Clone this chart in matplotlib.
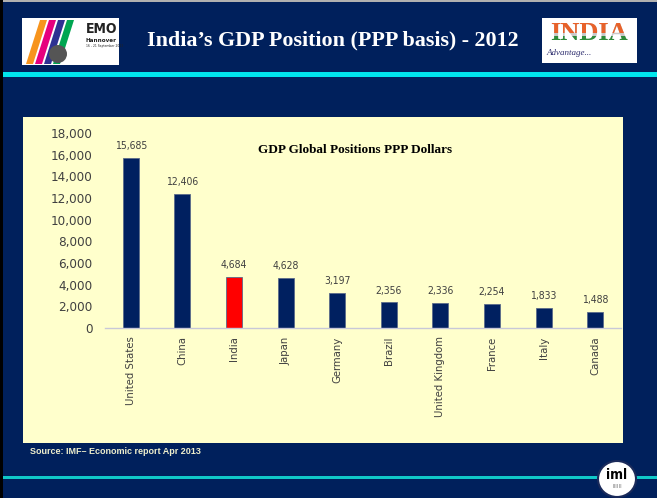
import matplotlib
matplotlib.use("Agg")
import matplotlib.pyplot as plt
from matplotlib.patches import Rectangle, Ellipse, Polygon

countries = ["United States", "China", "India", "Japan", "Germany", "Brazil",
             "United Kingdom", "France", "Italy", "Canada"]
gdp_ppp = [15685, 12406, 4684, 4628, 3197, 2356, 2336, 2254, 1833, 1488]
highlight = "India"
yticks = [0, 2000, 4000, 6000, 8000, 10000, 12000, 14000, 16000, 18000]

W, H = 657, 498
NAVY = "#00205C"
PANEL = "#FFFFCC"
BAR = "#002060"
CYAN = "#00E5EE"
NARROW = ["DejaVu Sans"]
SERIF = ["Liberation Serif", "DejaVu Serif"]

fig = plt.figure(figsize=(W / 100, H / 100), dpi=100)
fig.patch.set_facecolor(NAVY)


def fx(x):
    return x / W


def fy(y):
    return 1 - y / H


def rect(x0, y0, x1, y1, **kw):
    p = Rectangle((fx(x0), fy(y1)), fx(x1) - fx(x0), fy(y0) - fy(y1),
                  transform=fig.transFigure, figure=fig, zorder=kw.pop("zorder", -5), **kw)
    fig.patches.append(p)
    return p


# borders
rect(0, 0, 657, 2, facecolor="#B0B0B0", edgecolor="none")
rect(0, 0, 3, 498, facecolor="#000000", edgecolor="none")
# cyan lines
rect(3, 72, 657, 77, facecolor=CYAN, edgecolor="none")
rect(3, 476, 657, 479, facecolor="#10C8C8", edgecolor="none")
# yellow panel
rect(23, 117, 623, 443, facecolor=PANEL, edgecolor="none")

# EMO logo
rect(22, 18, 119, 65, facecolor="white", edgecolor="none")
stripe_cols = ["#F7941D", "#E6007E", "#2E3192", "#00A651"]
for i, c in enumerate(stripe_cols):
    x0 = 26 + i * 9
    fig.patches.append(Polygon([(fx(x0), fy(64)), (fx(x0 + 7), fy(64)),
                                (fx(x0 + 21), fy(20)), (fx(x0 + 14), fy(20))],
                               closed=True, transform=fig.transFigure, figure=fig,
                               facecolor=c, edgecolor="none", zorder=-4))
fig.patches.append(Ellipse((fx(58), fy(54)), 18 / W, 18 / H, transform=fig.transFigure,
                           figure=fig, facecolor="#555555", edgecolor="none", zorder=-3))
fig.text(fx(86), fy(29), "EMO", fontsize=10, fontweight="bold", color="#222222",
         family=NARROW, fontstretch="condensed", ha="left", va="center")
fig.text(fx(86), fy(40), "Hannover", fontsize=4.5, fontweight="bold", color="#222222",
         family=NARROW, fontstretch="condensed", ha="left", va="center")
fig.text(fx(86), fy(46), "16 - 21 September 2013", fontsize=2.2, color="#222222",
         ha="left", va="center")

# INDIA logo
rect(542, 18, 637, 63, facecolor="white", edgecolor="none")
clip_top = Rectangle((fx(542), fy(33)), fx(95), 15 / H, transform=fig.transFigure)
clip_bot = Rectangle((fx(542), fy(45)), fx(95), 9 / H, transform=fig.transFigure)
t1 = fig.text(fx(589), fy(33), "INDIA", fontsize=19, fontweight="bold", color="#E8622A",
              family=SERIF, ha="center", va="center")
t1.set_clip_path(clip_top)
t2 = fig.text(fx(589), fy(33), "INDIA", fontsize=19, fontweight="bold", color="#2E8B3A",
              family=SERIF, ha="center", va="center")
t2.set_clip_path(clip_bot)
t3 = fig.text(fx(589), fy(33), "INDIA", fontsize=19, fontweight="bold", color="#C8C8C8",
              family=SERIF, ha="center", va="center", zorder=-1)
fig.text(fx(547), fy(53), "Advantage...", fontsize=6.5, style="italic", color="#303070",
         family=SERIF, ha="left", va="center")

# header title
fig.text(fx(333), fy(40), "India\u2019s GDP Position (PPP basis) - 2012", fontsize=15.8,
         fontweight="bold", color="white", family=SERIF, ha="center", va="center")

# source
fig.text(fx(30), fy(451), "Source: IMF\u2013 Economic report Apr 2013", fontsize=6.5,
         fontweight="bold", color="#EEEECC", family=["Liberation Sans", "DejaVu Sans"],
         ha="left", va="center")

# bottom logo
fig.patches.append(Ellipse((fx(617), fy(479)), 38 / W, 36 / H, transform=fig.transFigure,
                           figure=fig, facecolor="white", edgecolor="#1A2A5A",
                           linewidth=1.5, zorder=-2))
fig.text(fx(617), fy(475), "iml", fontsize=10, fontweight="bold", color="black",
         family=NARROW, fontstretch="condensed", ha="center", va="center")
fig.text(fx(617), fy(486), "IIIIII", fontsize=4, color="#777777", ha="center", va="center")

# chart axes
ax = fig.add_axes([fx(105), fy(328), 516 / W, 195 / H])
ax.set_zorder(5)
ax.set_facecolor("none")
x = list(range(len(countries)))
colors = ["#FF0000" if c == highlight else BAR for c in countries]
bars = ax.bar(x, gdp_ppp, width=0.31, color=colors, edgecolor="#5A6A8A", linewidth=0.6)
ax.set_xlim(-0.5, len(countries) - 0.5)
ax.set_ylim(0, 18000)
ax.set_yticks(yticks)
ax.set_yticklabels([f"{v:,}" for v in yticks], family=NARROW, fontstretch="condensed",
                   fontsize=9.6, color="#404040")
ax.set_xticks(x)
ax.set_xticklabels(countries, rotation=90, family=NARROW, fontstretch="condensed",
                   fontsize=8.1, color="#404040", va="top")
ax.tick_params(axis="y", length=0, pad=9)
ax.tick_params(axis="x", length=0, pad=6)
for s in ["top", "right", "left"]:
    ax.spines[s].set_visible(False)
ax.spines["bottom"].set_color("#C8C8D8")
ax.spines["bottom"].set_linewidth(1.0)
for xi, v in zip(x, gdp_ppp):
    ax.annotate(f"{v:,}", (xi, v), xytext=(0, 5), textcoords="offset points",
                ha="center", va="bottom", family=NARROW, fontstretch="condensed",
                fontsize=7.5, color="#404040")

fig.text(fx(355), fy(150), "GDP Global Positions PPP Dollars", fontsize=9.5,
         fontweight="bold", color="black", family=SERIF, ha="center", va="center",
         zorder=6)

fig.savefig("out.png", dpi=100, facecolor=fig.get_facecolor())
